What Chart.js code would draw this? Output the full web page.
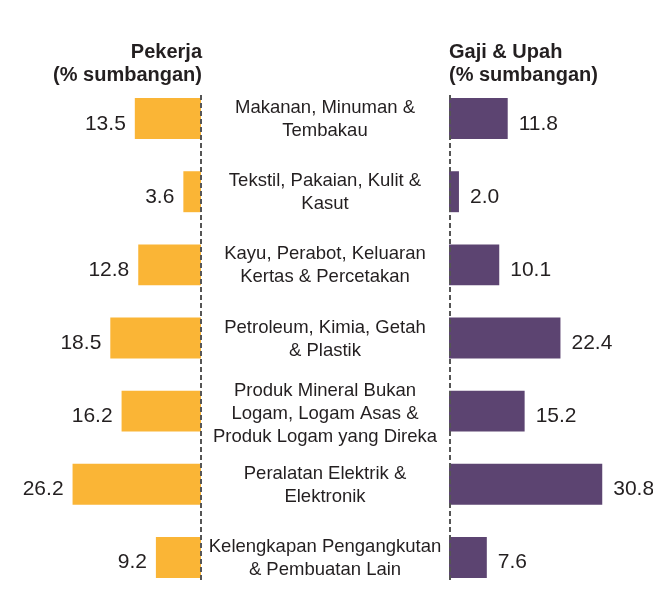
<!DOCTYPE html>
<html>
<head>
<meta charset="utf-8">
<script src="https://cdn.jsdelivr.net/npm/chart.js@4"></script>
<style>
  html, body { margin: 0; padding: 0; background: #ffffff; overflow: hidden; width: 653px; height: 591px; }
  #wrapL { position: absolute; left: 0; top: 0; width: 210px; height: 600px; }
  #wrapR { position: absolute; left: 201px; top: 0; width: 452px; height: 600px; }
</style>
</head>
<body>
<div id="wrapL"><canvas id="left"></canvas></div>
<div id="wrapR"><canvas id="right"></canvas></div>
<script>
const categories = [
  ["Makanan, Minuman &", "Tembakau"],
  ["Tekstil, Pakaian, Kulit &", "Kasut"],
  ["Kayu, Perabot, Keluaran", "Kertas & Percetakan"],
  ["Petroleum, Kimia, Getah", "& Plastik"],
  ["Produk Mineral Bukan", "Logam, Logam Asas &", "Produk Logam yang Direka"],
  ["Peralatan Elektrik &", "Elektronik"],
  ["Kelengkapan Pengangkutan", "& Pembuatan Lain"]
];
const pekerja = [13.5, 3.6, 12.8, 18.5, 16.2, 26.2, 9.2];
const gajiUpah = [11.8, 2.0, 10.1, 22.4, 15.2, 30.8, 7.6];
const titleLeft = ["Pekerja", "(% sumbangan)"];
const titleRight = ["Gaji & Upah", "(% sumbangan)"];

const FONT = "'Liberation Sans', Arial, Helvetica, sans-serif";
const TXT = "#231F20";
const ORANGE = "#FAB536";
const PURPLE = "#5C4471";

function decoPlugin(side) {
  return {
    id: 'deco' + side,
    afterDatasetsDraw(chart) {
      const ctx = chart.ctx;
      const area = chart.chartArea;
      const lineX = side === 'L' ? area.right : area.left + 1;
      // dashed axis line
      ctx.save();
      ctx.strokeStyle = "#555555";
      ctx.lineWidth = 2;
      ctx.setLineDash([5, 3]);
      ctx.beginPath();
      ctx.moveTo(lineX, 95);
      ctx.lineTo(lineX, 581);
      ctx.stroke();
      ctx.restore();
      // value labels
      ctx.save();
      ctx.font = "21px " + FONT;
      ctx.fillStyle = TXT;
      ctx.textBaseline = "alphabetic";
      const meta = chart.getDatasetMeta(0);
      const data = chart.data.datasets[0].data;
      meta.data.forEach((bar, i) => {
        const label = data[i].toFixed(1);
        if (side === 'L') {
          ctx.textAlign = "right";
          ctx.fillText(label, bar.x - 9, bar.y + 11);
        } else {
          ctx.textAlign = "left";
          ctx.fillText(label, bar.x + 11, bar.y + 11);
        }
      });
      ctx.restore();
      // titles
      ctx.save();
      ctx.font = "bold 20px " + FONT;
      ctx.fillStyle = TXT;
      ctx.textBaseline = "middle";
      const lines = side === 'L' ? titleLeft : titleRight;
      lines.forEach((t, k) => {
        if (side === 'L') {
          ctx.textAlign = "right";
          ctx.fillText(t, area.right + 1, 52 + k * 23);
        } else {
          ctx.textAlign = "left";
          ctx.fillText(t, area.left, 52 + k * 23);
        }
      });
      ctx.restore();
      // category labels (right chart only, centred between the two axes)
      if (side === 'R') {
        ctx.save();
        ctx.font = "18.5px " + FONT;
        ctx.fillStyle = TXT;
        ctx.textAlign = "center";
        ctx.textBaseline = "middle";
        const yScale = chart.scales.y;
        const cx = area.left / 2;
        chart.data.labels.forEach((lab, i) => {
          const n = lab.length;
          const yc = yScale.getPixelForValue(i) + (n > 2 ? 3 : 1);
          lab.forEach((ln, k) => {
            ctx.fillText(ln, cx, yc + (k - (n - 1) / 2) * 23);
          });
        });
        ctx.restore();
      }
    }
  };
}

new Chart(document.getElementById('left'), {
  type: 'bar',
  data: {
    labels: categories,
    datasets: [{ data: pekerja, backgroundColor: ORANGE, borderWidth: 0,
                 categoryPercentage: 1, barPercentage: 0.56 }]
  },
  options: {
    indexAxis: 'y',
    responsive: true,
    maintainAspectRatio: false,
    animation: false,
    layout: { padding: { top: 82, bottom: 6, left: 0, right: 9 } },
    plugins: { legend: { display: false }, tooltip: { enabled: false } },
    scales: {
      x: { min: 0, max: 41, reverse: true, display: false },
      y: { display: false }
    }
  },
  plugins: [decoPlugin('L')]
});

new Chart(document.getElementById('right'), {
  type: 'bar',
  data: {
    labels: categories,
    datasets: [{ data: gajiUpah, backgroundColor: PURPLE, borderWidth: 0,
                 categoryPercentage: 1, barPercentage: 0.56 }]
  },
  options: {
    indexAxis: 'y',
    responsive: true,
    maintainAspectRatio: false,
    animation: false,
    layout: { padding: { top: 82, bottom: 6, left: 248, right: 0 } },
    plugins: { legend: { display: false }, tooltip: { enabled: false } },
    scales: {
      x: { min: 0, max: 41, display: false },
      y: { display: false }
    }
  },
  plugins: [decoPlugin('R')]
});
</script>
</body>
</html>
